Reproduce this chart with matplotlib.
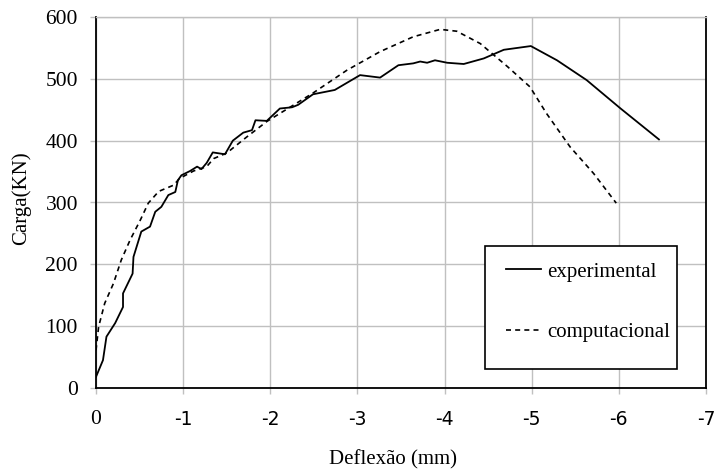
import matplotlib
matplotlib.use("Agg")
import matplotlib.pyplot as plt
from matplotlib.patches import Rectangle

# Experimental curve (deflection mm, load kN)
exp_x = [0.0, -0.08, -0.12, -0.22, -0.31, -0.31, -0.42, -0.43, -0.52, -0.62, -0.68, -0.75,
         -0.83, -0.91, -0.94, -0.98, -1.08, -1.16, -1.21, -1.27, -1.34, -1.48, -1.57, -1.69,
         -1.79, -1.83, -1.96, -2.11, -2.25, -2.32, -2.49, -2.74, -3.03, -3.26, -3.47, -3.64,
         -3.72, -3.80, -3.89, -4.03, -4.22, -4.45, -4.68, -4.99, -5.29, -5.63, -6.02, -6.46]
exp_y = [18, 45, 83, 105, 131, 153, 185, 212, 253, 261, 285, 293,
         312, 317, 336, 344, 351, 358, 354, 364, 381, 378, 400, 413,
         417, 433, 432, 452, 454, 458, 475, 482, 506, 502, 522, 525,
         528, 526, 530, 526, 524, 533, 547, 553, 530, 498, 452, 402]

# Computational curve
com_x = [0.0, -0.03, -0.10, -0.20, -0.29, -0.39, -0.51, -0.60, -0.72, -0.89, -0.96, -1.12,
         -1.27, -1.35, -1.50, -1.73, -1.96, -2.49, -2.88, -3.26, -3.64, -3.95, -4.14, -4.41,
         -4.72, -4.98, -5.17, -5.44, -5.71, -5.97]
com_y = [61, 99, 137, 169, 207, 239, 272, 299, 318, 328, 339, 351,
         358, 371, 380, 406, 431, 477, 514, 544, 568, 580, 577, 557,
         520, 487, 444, 390, 347, 299]

x_ticks = [0, -1, -2, -3, -4, -5, -6, -7]
y_ticks = [0, 100, 200, 300, 400, 500, 600]

SERIF = ["Liberation Serif", "DejaVu Serif"]
SANS = ["DejaVu Sans"]

fig = plt.figure(figsize=(7.21, 4.72), dpi=100)
ax = fig.add_axes([96 / 721, 1 - 388 / 472, 610 / 721, 371 / 472])

ax.plot(exp_x, exp_y, color="black", lw=1.3, label="experimental")
ax.plot(com_x, com_y, color="black", lw=1.2, linestyle=(0, (3, 2.5)), label="computacional")

ax.set_xlim(0, -7)
ax.set_ylim(0, 600)
ax.set_xticks(x_ticks)
ax.set_yticks(y_ticks)
ax.grid(True, color="#c0c0c0", lw=1.0)
ax.set_axisbelow(True)

ax.set_xticklabels([str(v) for v in x_ticks])
for i, lab in enumerate(ax.get_xticklabels()):
    if i == 0:
        lab.set_family(SERIF)
        lab.set_fontsize(15.5)
    else:
        lab.set_family(SANS)
        lab.set_fontsize(13.5)
ax.set_yticklabels([str(v) for v in y_ticks], family=SERIF, fontsize=15.5)

ax.tick_params(axis="both", color="#c0c0c0", length=4, width=1, direction="out")
ax.tick_params(axis="x", pad=12)
ax.tick_params(axis="y", pad=9)

for s in ["left", "bottom", "right"]:
    ax.spines[s].set_color("black")
    ax.spines[s].set_linewidth(1.3)
ax.spines["top"].set_color("#c0c0c0")
ax.spines["top"].set_linewidth(1.0)

fig.text(393 / 721, 1 - 460 / 472, "Deflexão (mm)", family=SERIF, fontsize=15,
         ha="center", va="center")
fig.text(21 / 721, 1 - 198 / 472, "Carga(KN)", family=SERIF, fontsize=15,
         ha="center", va="center", rotation=90)

# legend box
ax.add_patch(Rectangle((0.638, 0.051), 0.314, 0.332, transform=ax.transAxes,
                       facecolor="white", edgecolor="black", lw=1.2, zorder=3))
leg = ax.legend(loc="center left", bbox_to_anchor=(0.672, 0.232),
                frameon=False, prop={"family": SERIF, "size": 15}, handlelength=1.7,
                handletextpad=0.3, labelspacing=1.95, borderpad=0, borderaxespad=0)
leg.set_zorder(4)

fig.savefig("out.png", dpi=100)
